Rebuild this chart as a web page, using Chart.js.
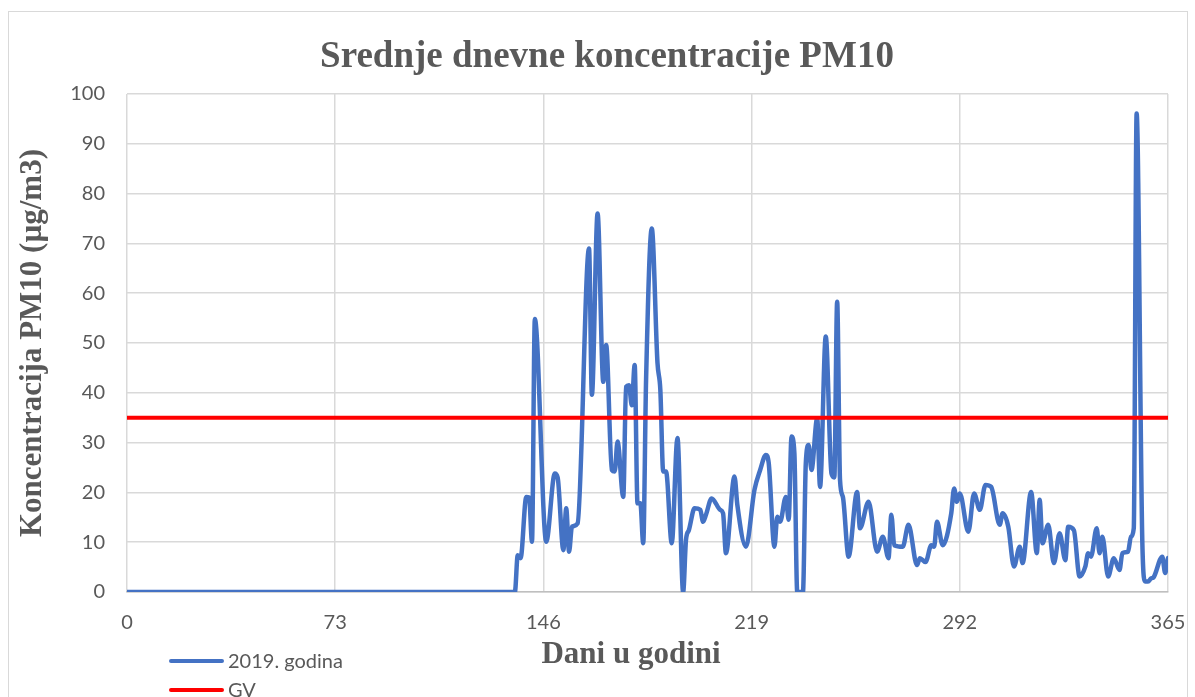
<!DOCTYPE html>
<html>
<head>
<meta charset="utf-8">
<script src="https://cdn.jsdelivr.net/npm/chart.js@4.4.1/dist/chart.umd.min.js"></script>
<style>
  html, body { margin: 0; padding: 0; background: #ffffff; }
  #wrap { width: 1195px; height: 697px; position: relative; }
</style>
</head>
<body>
<div id="wrap"><canvas id="c" width="1195" height="697"></canvas></div>
<script>
// Daily mean PM10 concentration, 2019 (day of year -> µg/m3)
const days = [0, 136, 137, 138, 140, 141, 142, 143, 147, 150, 151, 153, 154, 155, 156, 158, 162, 163, 165, 167,
  168, 170, 171, 172, 174, 175, 176, 177, 178, 179, 180, 181, 182, 184, 186, 187, 188, 189, 191, 193,
  195, 196, 197, 199, 201, 202, 203, 205, 208, 209, 210, 213, 214, 217, 220, 222, 224, 225, 227, 228,
  229, 231, 232, 233, 234, 235, 237, 238, 239, 240, 242, 243, 245, 247, 248, 249, 250, 251, 253, 256,
  257, 260, 263, 265, 267, 268, 269, 272, 274, 277, 278, 280, 282, 283, 284, 286, 289, 290, 291, 292,
  295, 297, 299, 301, 303, 306, 307, 309, 311, 313, 314, 317, 319, 320, 321, 323, 325, 327, 329, 330,
  332, 334, 336, 337, 338, 340, 341, 342, 344, 346, 348, 349, 351, 352, 353, 354, 356, 357, 358, 359,
  360, 363, 364, 365];
const pm10 = [0, 0, 7.4, 6.8, 19.1, 19.0, 10.1, 54.8, 10.1, 23.8, 23.0, 8.4, 16.8, 8.1, 13.1, 13.8, 69.0, 39.6, 76.0, 42.2,
  49.6, 24.5, 24.2, 30.2, 19.1, 41.2, 41.5, 37.5, 45.6, 17.8, 17.8, 9.8, 42.6, 73.0, 46.0, 40.6, 24.2, 24.2, 9.8, 30.9,
  0, 10.5, 12.4, 16.8, 16.5, 14.1, 15.5, 18.8, 16.5, 15.8, 7.8, 23.2, 17.5, 9.1, 20.5, 24.5, 27.5, 25.9, 9.1, 15.1,
  14.1, 19.1, 14.5, 31.2, 27.9, 0, 0, 25.8, 29.5, 24.5, 34.9, 21.1, 51.3, 23.8, 23.0, 58.3, 22.5, 19.1, 7.1, 20.1,
  12.8, 18.1, 8.1, 11.1, 6.8, 15.5, 9.4, 9.1, 13.5, 5.4, 6.8, 6.0, 9.4, 9.1, 14.1, 9.4, 15.8, 20.8, 18.1, 19.8,
  12.1, 19.8, 16.5, 21.5, 21.1, 13.5, 15.8, 13.1, 5.1, 9.1, 5.8, 20.1, 7.8, 18.5, 9.8, 13.5, 5.8, 11.8, 6.4, 13.1,
  12.4, 3.1, 5.1, 7.8, 7.1, 12.8, 7.8, 11.1, 3.1, 6.8, 4.4, 7.8, 8.1, 11.1, 12.8, 96.1, 10.0, 2.1, 2.1, 2.7,
  3.0, 7.1, 3.8, 6.8];

// Limit value (granična vrijednost) for daily PM10
const gvValue = 35;
const gvDays = [0, 365];

const xTicks = [0, 73, 146, 219, 292, 365];
const yMin = 0, yMax = 100, yStep = 10;

const seriesLabel = '2019. godina';
const gvLabel = 'GV';
const chartTitle = 'Srednje dnevne koncentracije PM10';
const xTitle = 'Dani u godini';
const yTitle = 'Koncentracija PM10 (µg/m3)';

const TEXT = '#595959';
const GRID = '#d9d9d9';
const SERIF = '"Liberation Serif", "Times New Roman", serif';
const SANS = 'Lato, "Open Sans", sans-serif';

// Frame, titles and stacked legend drawn straight onto the canvas
const decor = {
  id: 'decor',
  beforeDraw(chart) {
    const ctx = chart.ctx;
    ctx.save();
    ctx.fillStyle = '#ffffff';
    ctx.fillRect(0, 0, chart.width, chart.height);
    ctx.strokeStyle = GRID;
    ctx.lineWidth = 1;
    ctx.strokeRect(8.5, 11.5, 1179, 720);
    ctx.restore();
  },
  afterDraw(chart) {
    const ctx = chart.ctx;
    ctx.save();
    ctx.fillStyle = TEXT;
    ctx.textAlign = 'center';
    ctx.textBaseline = 'alphabetic';
    ctx.font = 'bold 37px ' + SERIF;
    ctx.fillText(chartTitle, 607, 67);
    ctx.font = 'bold 31px ' + SERIF;
    ctx.fillText(xTitle, 631, 663);

    const rows = [chart.data.datasets[0], chart.data.datasets[1]];
    const ys = [661, 690];
    ctx.font = '20px ' + SANS;
    ctx.textAlign = 'left';
    ctx.textBaseline = 'middle';
    rows.forEach((ds, i) => {
      ctx.strokeStyle = ds.borderColor;
      ctx.lineWidth = 4;
      ctx.lineCap = 'round';
      ctx.beginPath();
      ctx.moveTo(171, ys[i]);
      ctx.lineTo(222, ys[i]);
      ctx.stroke();
      ctx.fillStyle = TEXT;
      ctx.fillText(ds.label, 228, ys[i] + 1);
    });
    ctx.restore();
  }
};

new Chart(document.getElementById('c'), {
  type: 'line',
  data: {
    datasets: [
      {
        label: seriesLabel,
        data: days.map((d, i) => ({ x: d, y: pm10[i] })),
        borderColor: '#4472C4',
        borderWidth: 4.5,
        pointRadius: 0,
        cubicInterpolationMode: 'monotone',
        borderJoinStyle: 'round',
        borderCapStyle: 'round',
        order: 2
      },
      {
        label: gvLabel,
        data: gvDays.map(d => ({ x: d, y: gvValue })),
        borderColor: '#FF0000',
        borderWidth: 4,
        pointRadius: 0,
        order: 1
      }
    ]
  },
  options: {
    responsive: false,
    animation: false,
    layout: { padding: { top: 94, right: 27, left: 0, bottom: 0 } },
    plugins: {
      legend: { display: false },
      title: { display: false },
      tooltip: { enabled: false }
    },
    scales: {
      x: {
        type: 'linear',
        min: 0,
        max: 365,
        afterBuildTicks(scale) { scale.ticks = xTicks.map(v => ({ value: v })); },
        afterFit(scale) { scale.height = 105; scale.paddingLeft = 0; scale.paddingRight = 0; },
        grid: { color: GRID, lineWidth: 1.5, drawTicks: false },
        border: { color: '#bfbfbf', width: 1.5 },
        ticks: { color: TEXT, font: { family: SANS, size: 20 }, padding: 19, maxRotation: 0, autoSkip: false },
        title: { display: false }
      },
      y: {
        min: yMin,
        max: yMax,
        afterFit(scale) { scale.width = 127; scale.paddingTop = 0; scale.paddingBottom = 0; },
        grid: { color: GRID, lineWidth: 1.5, drawTicks: false },
        border: { display: false },
        ticks: { stepSize: yStep, color: TEXT, font: { family: SANS, size: 20 }, padding: 22 },
        title: {
          display: true, text: yTitle, color: TEXT,
          font: { family: SERIF, size: 31, weight: 'bold' },
          padding: { top: 14, bottom: 0 }
        }
      }
    }
  },
  plugins: [decor]
});
</script>
</body>
</html>
